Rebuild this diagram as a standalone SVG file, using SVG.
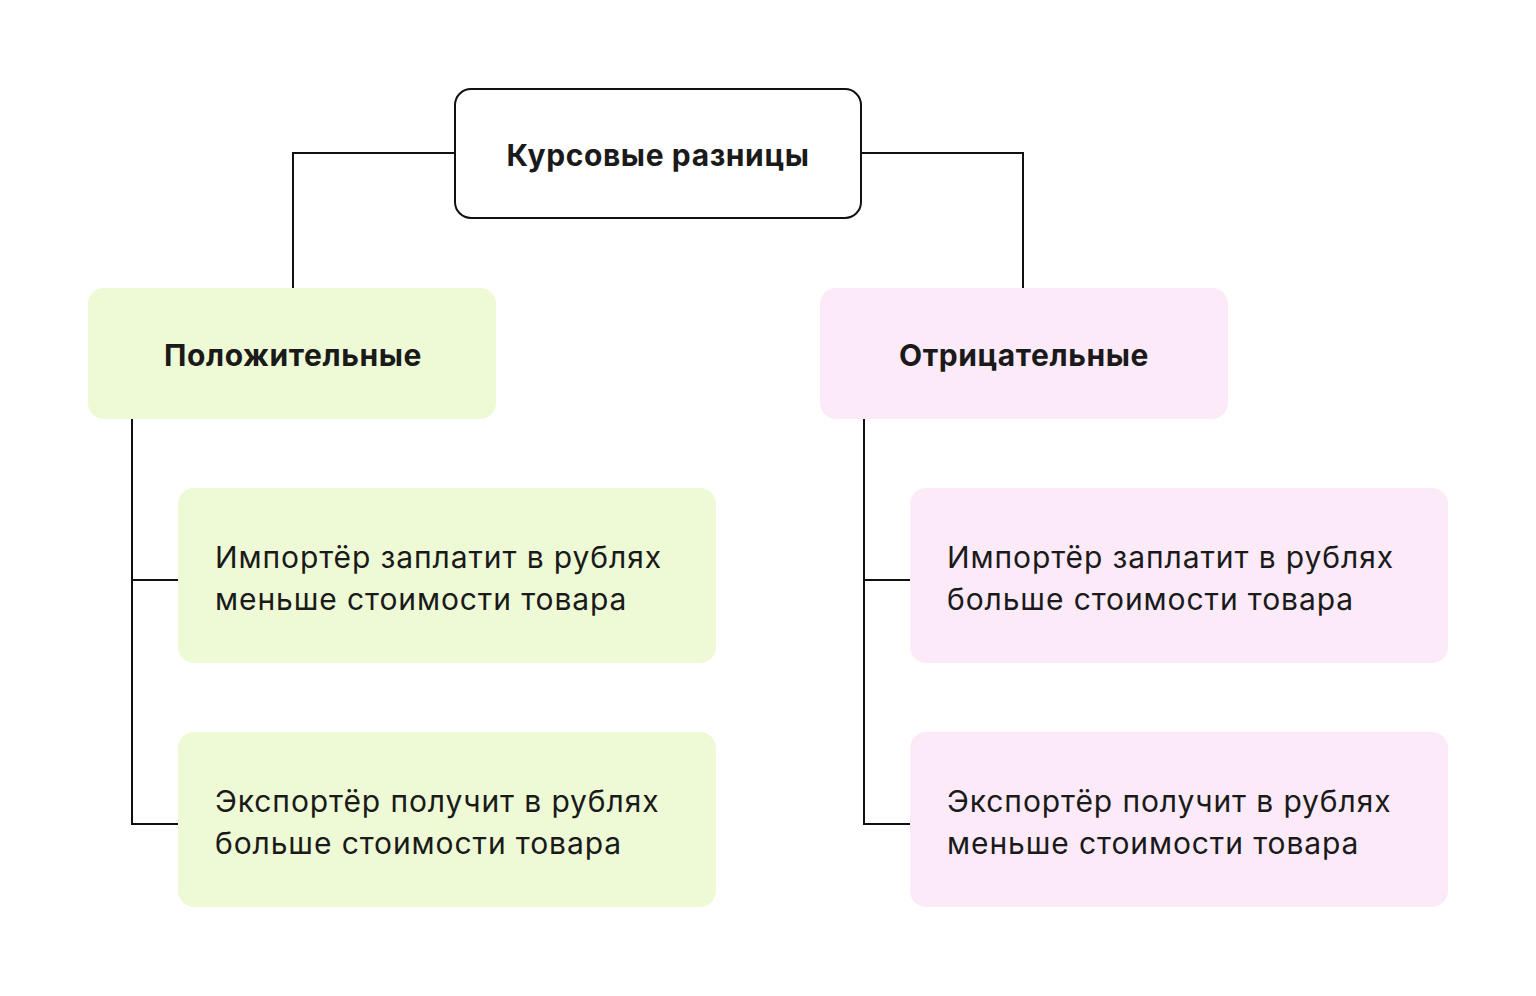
<svg xmlns="http://www.w3.org/2000/svg" width="1536" height="996" viewBox="0 0 1536 996">
<style>
.bg{fill:#ffffff}
.root{fill:#ffffff;stroke:#111111;stroke-width:2}
.pos{fill:#EEF9D5}
.neg{fill:#FCEAF8}
.conn{fill:none;stroke:#111111;stroke-width:2}
.h{font-family:Inter,"Noto Sans",sans-serif;font-weight:700;font-size:30px;letter-spacing:0.6px;fill:#1a1a1a;text-anchor:middle}
.t{font-family:Inter,"Noto Sans",sans-serif;font-weight:400;font-size:30px;letter-spacing:0.9px;fill:#1a1a1a}
</style>
<rect class="bg" x="0" y="0" width="1536" height="996"/>
<g id="connectors">
<path class="conn" d="M455 153 H293 V288"/>
<path class="conn" d="M861 153 H1023 V288"/>
<path class="conn" d="M132 419 V824 H178 M132 580 H178"/>
<path class="conn" d="M864 419 V824 H910 M864 580 H910"/>
</g>
<g id="root">
<rect class="root" x="455" y="89" width="406" height="129" rx="16"/>
<text class="h" x="658" y="166">Курсовые разницы</text>
</g>
<g id="positive">
<rect class="pos" x="88" y="288" width="408" height="131" rx="16"/>
<text class="h" x="293" y="366">Положительные</text>
</g>
<g id="negative">
<rect class="neg" x="820" y="288" width="408" height="131" rx="16"/>
<text class="h" x="1024" y="366">Отрицательные</text>
</g>
<g id="pos-importer">
<rect class="pos" x="178" y="488" width="538" height="175" rx="16"/>
<text class="t" x="215" y="568">Импортёр заплатит в рублях</text>
<text class="t" x="215" y="610">меньше стоимости товара</text>
</g>
<g id="pos-exporter">
<rect class="pos" x="178" y="732" width="538" height="175" rx="16"/>
<text class="t" x="215" y="812">Экспортёр получит в рублях</text>
<text class="t" x="215" y="854">больше стоимости товара</text>
</g>
<g id="neg-importer">
<rect class="neg" x="910" y="488" width="538" height="175" rx="16"/>
<text class="t" x="947" y="568">Импортёр заплатит в рублях</text>
<text class="t" x="947" y="610">больше стоимости товара</text>
</g>
<g id="neg-exporter">
<rect class="neg" x="910" y="732" width="538" height="175" rx="16"/>
<text class="t" x="947" y="812">Экспортёр получит в рублях</text>
<text class="t" x="947" y="854">меньше стоимости товара</text>
</g>
</svg>
